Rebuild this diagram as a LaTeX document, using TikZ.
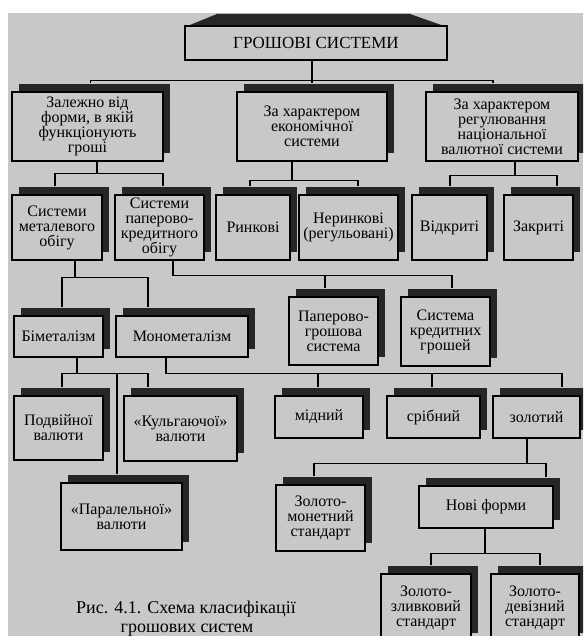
\documentclass[tikz,border=0pt]{standalone}
\usepackage{fontspec}
\setmainfont{Liberation Serif}
\usetikzlibrary{calc,shadows}
\definecolor{bgc}{RGB}{200,200,200}
\definecolor{shd}{RGB}{38,38,38}
\begin{document}
\begin{tikzpicture}[x=1pt,y=-1pt,
  box/.style={draw=black, line width=1.4pt, fill=bgc,
    general shadow={fill=shd, shadow xshift=7pt, shadow yshift=8pt},
    inner sep=0pt, align=center, text=black,
    font=\fontsize{16}{15}\selectfont},
  titlebox/.style={draw=black, line width=1.4pt, fill=bgc, inner sep=0pt,
    font=\fontsize{17}{17}\selectfont},
  wh/.style 2 args={minimum width=#1pt, minimum height=#2pt},
  conn/.style={line width=1.3pt, draw=black},
  captext/.style={font=\fontsize{18}{18}\selectfont, anchor=base, inner sep=0pt}
  ]
\useasboundingbox (0,0) rectangle (583,636);
\clip (0,0) rectangle (583,636);
\fill[white] (0,0) rectangle (583,636);
\fill[bgc] (8,13) rectangle (583,636);

% title with roof
\fill[shd] (185,27) -- (217,14) -- (410,14) -- (447,27) -- cycle;
\node[titlebox, wh={262}{34}] (title) at (316,43) {ГРОШОВІ СИСТЕМИ};

% level 1
\node[box, wh={151}{69}] (A) at (87.5,126.5) {Залежно від\\форми, в якій\\функціонують\\гроші};
\node[box, wh={150}{69}] (B) at (312,126.5) {За характером\\економічної\\системи};
\node[box, wh={152}{69}] (C) at (502,126.5) {За характером\\регулювання\\національної\\валютної системи};

% level 2
\node[box, wh={90}{65}] (met) at (57,227.5) {Системи\\металевого\\обігу};
\node[box, wh={89}{65}] (pap) at (159.5,227.5) {Системи\\паперово-\\кредитного\\обігу};
\node[box, wh={74}{65}] (rynk) at (253,227.5) {Ринкові};
\node[box, wh={99}{65}] (neryn) at (348.5,227.5) {Неринкові\\(регульовані)};
\node[box, wh={75}{65}] (vidkr) at (449.5,227.5) {Відкриті};
\node[box, wh={69}{65}] (zakr) at (538.5,227.5) {Закриті};

% level 3
\node[box, wh={89}{41}] (bimet) at (58.5,336.5) {Біметалізм};
\node[box, wh={132}{41}] (monomet) at (182,336.5) {Монометалізм};
\node[box, wh={89}{68}] (papgr) at (333.5,331) {Паперово-\\грошова\\система};
\node[box, wh={89}{69}] (kred) at (445.5,331.5) {Система\\кредитних\\грошей};

% level 4
\node[box, wh={89}{64}] (podv) at (58.5,428) {Подвійної\\валюти};
\node[box, wh={113}{65}] (kulg) at (180.5,428.5) {«Кульгаючої»\\валюти};
\node[box, wh={88}{42}] (midn) at (319,417) {мідний};
\node[box, wh={93}{42}] (sribn) at (433.5,417) {срібний};
\node[box, wh={87}{42}] (zolot) at (536.5,417) {золотий};

% level 5
\node[box, wh={121}{67}] (paral) at (121.5,516.5) {«Паралельної»\\валюти};
\node[box, wh={89}{66}] (zmon) at (320.5,518) {Золото-\\монетний\\стандарт};
\node[box, wh={134}{42}] (novi) at (486,507) {Нові форми};

% level 6
\node[box, wh={90}{67}] (zlyv) at (426,607.5) {Золото-\\зливковий\\стандарт};
\node[box, wh={88}{67}] (deviz) at (535,607.5) {Золото-\\девізний\\стандарт};

% caption
\node[captext] (cap1) at (186,613) {Рис. 4.1. Схема класифікації};
\node[captext] (cap2) at (187,632) {грошових систем};

% connectors
\draw[conn] ($(title.south)+(-4,0)$) -- ++(0,20) coordinate (j0);
\draw[conn] ($(A.north)+(3,-8)$) |- (j0) -| ($(C.north)+(-9,-8)$);
\draw[conn] (j0) -- ($(j0 |- B.north)+(0,-8)$);

\draw[conn] ($(A.south)+(9.5,0)$) -- ++(0,12) coordinate (j1);
\draw[conn] ($(met.north)+(-2,-8)$) |- (j1) -| ($(pap.north)+(3.5,-8)$);

\draw[conn] ($(B.south)+(-20,0)$) -- ++(0,19) coordinate (j2);
\draw[conn] ($(rynk.north)+(-3,-8)$) |- (j2) -| ($(neryn.north)+(9.5,-8)$);

\draw[conn] ($(C.south)+(13,0)$) -- ++(0,14) coordinate (j3);
\draw[conn] ($(vidkr.north)+(0.5,-8)$) |- (j3) -| ($(zakr.north)+(18.5,-8)$);

\draw[conn] ($(met.south)+(18,0)$) -- ++(0,17) coordinate (j4);
\draw[conn] ($(bimet.north)+(3.5,-8)$) |- (j4) -| ($(monomet.north)+(-34,-8)$);

\draw[conn] ($(pap.south)+(13.5,0)$) -- ++(0,15) coordinate (j5) -| ($(kred.north)+(6.5,-8)$);
\draw[conn] ($(papgr.north)+(-8.5,-8)$) -- ($(papgr.north |- j5)+(-8.5,0)$);

\draw[conn] ($(bimet.south)+(18.5,0)$) -- ++(0,16) coordinate (j6);
\draw[conn] ($(podv.north)+(3.5,-8)$) |- (j6) -| ($(kulg.north)+(-32.5,-8)$);
\draw[conn] ($(paral.north)+(-4.5,-8)$) -- ($(paral.north |- j6)+(-4.5,0)$);

\draw[conn] ($(monomet.south)+(-16,0)$) -- ++(0,16) coordinate (j7) -| ($(zolot.north)+(25.5,-8)$);
\draw[conn] ($(midn.north)+(-1,-8)$) -- ($(midn.north |- j7)+(-1,0)$);
\draw[conn] ($(sribn.north)+(-1.5,-8)$) -- ($(sribn.north |- j7)+(-1.5,0)$);

\draw[conn] ($(zolot.south)+(-9.5,0)$) -- ++(0,25) coordinate (j8);
\draw[conn] ($(zmon.north)+(-6.5,-8)$) |- (j8) -| ($(novi.north)+(60,-8)$);

\draw[conn] ($(novi.south)+(-1,0)$) -- ++(0,25) coordinate (j9);
\draw[conn] ($(zlyv.north)+(5,-8)$) |- (j9) -| ($(deviz.north)+(5,-8)$);
\end{tikzpicture}
\end{document}
